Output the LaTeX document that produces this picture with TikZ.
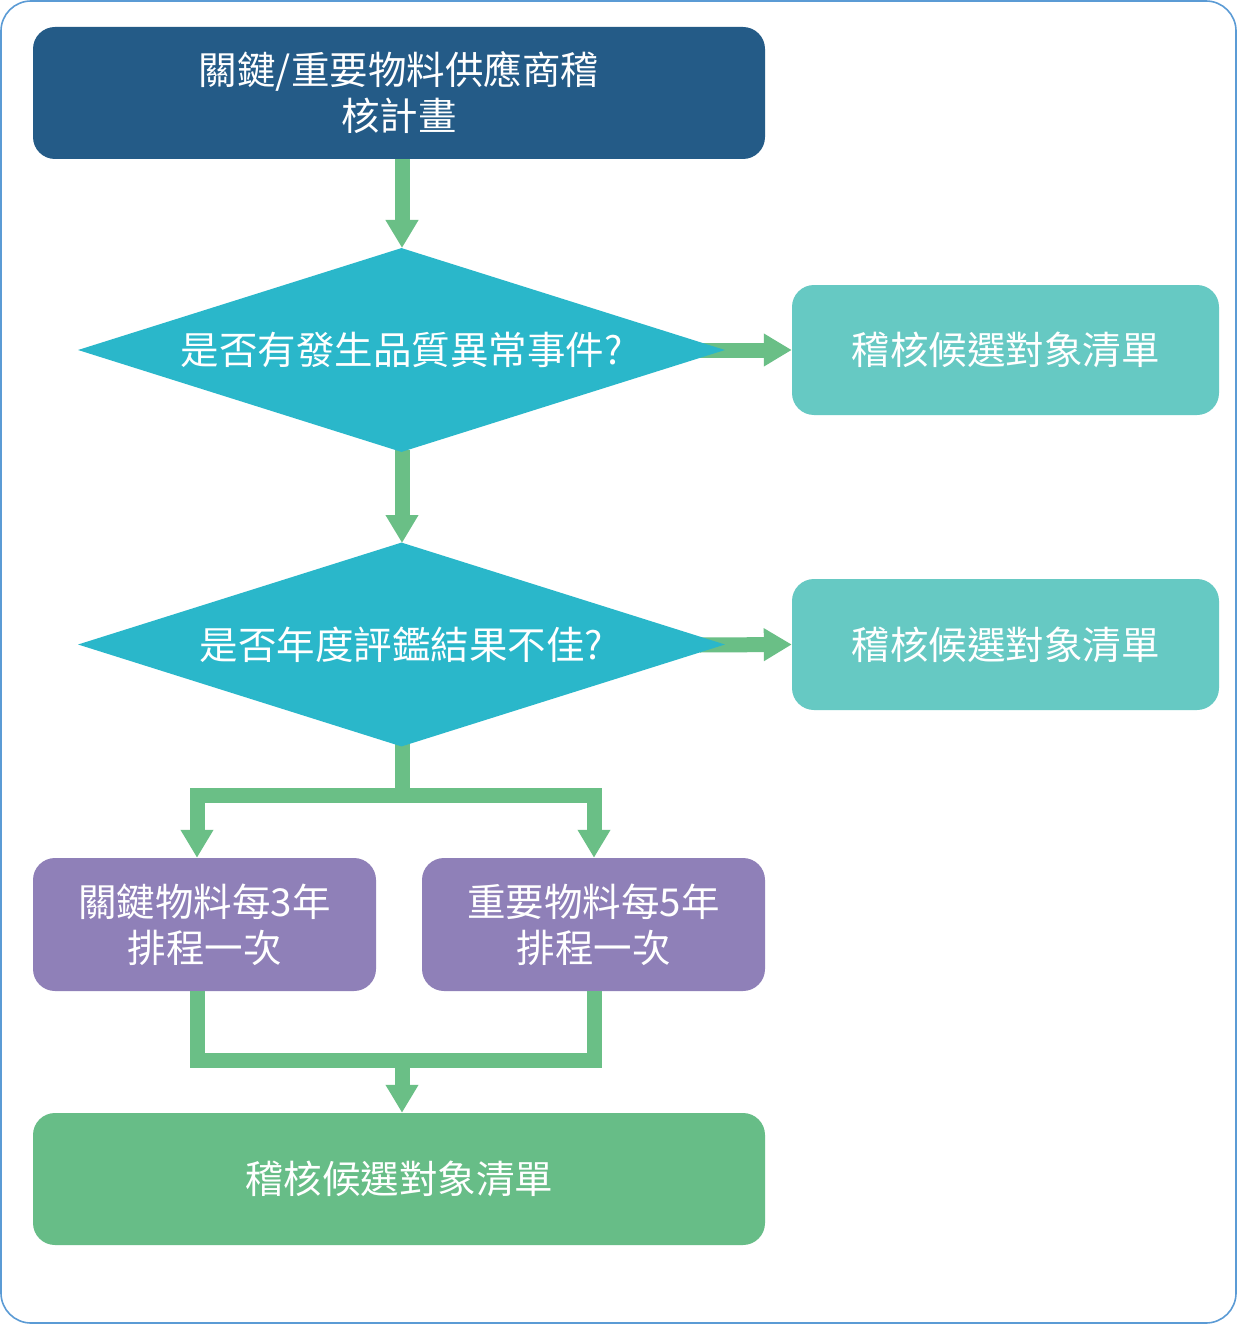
\documentclass[tikz,border=0pt]{standalone}
\usepackage{fontspec}
\newfontfamily\cjk{Noto Sans CJK TC}
\usetikzlibrary{shapes.geometric,arrows.meta}
\definecolor{cdark}{HTML}{245B87}
\definecolor{ccyan}{HTML}{2AB7CA}
\definecolor{cteal}{HTML}{66C9C3}
\definecolor{cpurple}{HTML}{8F80B8}
\definecolor{cgreen}{HTML}{67BD87}
\definecolor{carrow}{HTML}{6ABF86}
\definecolor{cborder}{HTML}{5B9BD5}
\tikzset{
  box/.style={rectangle, rounded corners=22pt, inner sep=0pt, text=white, align=center,
    font=\cjk\fontsize{38.5}{46}\selectfont},
  dia/.style={diamond, aspect=3.17, inner sep=0pt, fill=ccyan, text=white,
    minimum width=647pt, minimum height=204pt, font=\cjk\fontsize{38.5}{46}\selectfont},
  conn/.style={draw=carrow, line width=15pt, line join=miter, line cap=butt},
  arr/.style={conn, -{Triangle[width=31pt,length=28pt]}},
}
\begin{document}
\begin{tikzpicture}[x=1pt,y=-1pt]
\useasboundingbox (0,0) rectangle (1237,1324);
\fill[white] (0,0) rectangle (1237,1324);
\draw[cborder, line width=1.6pt, rounded corners=30pt] (1,1) rectangle (1236,1323);

% coordinates
\coordinate (m1) at (402,795);
\coordinate (m2) at (402,1060);

% nodes
\node[box, fill=cdark, minimum width=732pt, minimum height=132pt] (top) at (399,93) {關鍵/重要物料供應商稽\\核計畫};
\node[box, fill=cteal, minimum width=427pt, minimum height=130pt] (r1) at (1005.5,350) {稽核候選對象清單};
\node[box, fill=cteal, minimum width=427pt, minimum height=131pt] (r2) at (1005.5,644.5) {稽核候選對象清單};
\node[box, fill=cpurple, minimum width=343pt, minimum height=133pt] (p1) at (204.5,924.5) {關鍵物料每3年\\排程一次};
\node[box, fill=cpurple, minimum width=343pt, minimum height=133pt] (p2) at (593.5,924.5) {重要物料每5年\\排程一次};
\node[box, fill=cgreen, minimum width=732pt, minimum height=132pt] (g) at (399,1179) {稽核候選對象清單};

% connectors (behind diamonds)
\draw[arr] ([xshift=3pt]top.south) -- (402,248);
\draw[arr] (700,350) -- (r1.west);
\draw[arr] (402,450) -- (402,543);
\draw[arr] (700,645) -- (r2.west);
\draw[conn] (402,744) -- (m1);
\draw[arr] (m1) -| ([xshift=-7.5pt]p1.north);
\draw[arr] (m1) -| ([xshift=0.5pt]p2.north);
\draw[conn] ([xshift=-7.5pt]p1.south) |- (m2);
\draw[conn] ([xshift=0.5pt]p2.south) |- (m2);
\draw[arr] (m2) -- (m2 |- g.north);

% diamonds
\node[dia] (d1) at (401.5,350) {是否有發生品質異常事件?};
\node[dia] (d2) at (401.5,644.5) {是否年度評鑑結果不佳?};
\end{tikzpicture}
\end{document}
